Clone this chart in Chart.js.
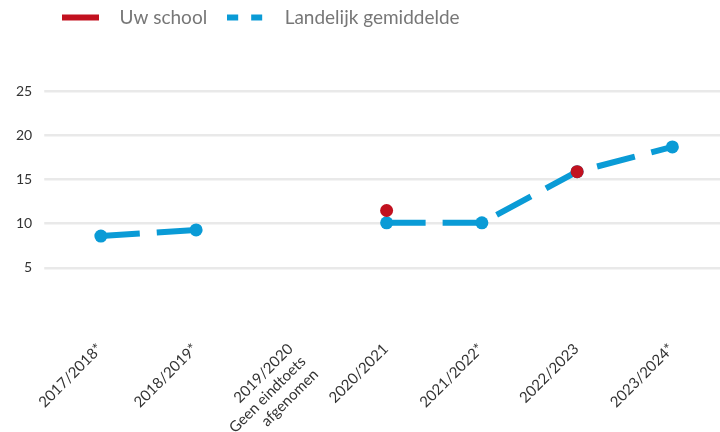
<!DOCTYPE html>
<html>
<head>
<meta charset="utf-8">
<script src="https://cdn.jsdelivr.net/npm/chart.js@4.4.1/dist/chart.umd.min.js"></script>
<style>
  html, body { margin: 0; padding: 0; background: #fff; }
  #wrap { width: 720px; height: 432px; position: relative; }
</style>
</head>
<body>
<div id="wrap"><canvas id="scoreChart"></canvas></div>
<script>
const schoolYears = [
    '2017/2018*',
    '2018/2019*',
    ['2019/2020', 'Geen eindtoets', 'afgenomen'],
    '2020/2021',
    '2021/2022*',
    '2022/2023',
    '2023/2024*'
];
const uwSchool = [null, null, null, 11.5, null, 15.9, null];
const landelijk = [8.6, 9.3, null, 10.1, 10.1, 15.9, 18.7];
const yTicks = [5, 10, 15, 20, 25];

document.addEventListener('DOMContentLoaded', () => {
    const red = '#c2111f';
    const blue = '#0a9bd6';
    const gridColor = '#e9e9e9';

    Chart.defaults.font.family = "'Lato', 'Open Sans', sans-serif";

    // legend swatch: a thick line (solid or dashed) with room after it
    const makeSwatch = (color, dash) => {
        const c = document.createElement('canvas');
        c.width = 48;
        c.height = 8;
        const g = c.getContext('2d');
        g.strokeStyle = color;
        g.lineWidth = 6;
        g.setLineDash(dash);
        g.beginPath();
        g.moveTo(0, 4);
        g.lineTo(37, 4);
        g.stroke();
        return c;
    };
    const swatches = [makeSwatch(red, []), makeSwatch(blue, [11, 13])];

    // nudge the legend to where the reference has it
    const legendShift = {
        id: 'legendShift',
        afterLayout(chart) {
            chart.legend.left += 42 - chart.options.layout.padding.left;
            chart.legend.top -= 12;
        }
    };

    new Chart(document.getElementById('scoreChart'), {
        type: 'line',
        data: {
            labels: schoolYears,
            datasets: [{
                label: 'Uw school',
                data: uwSchool,
                borderColor: red,
                backgroundColor: red,
                pointBackgroundColor: red,
                pointBorderWidth: 0,
                pointRadius: 6.5,
                borderWidth: 6,
                spanGaps: false,
                order: 1
            }, {
                label: 'Landelijk gemiddelde',
                data: landelijk,
                borderColor: blue,
                backgroundColor: blue,
                pointBackgroundColor: blue,
                pointBorderWidth: 0,
                pointRadius: 6.5,
                borderWidth: 6,
                borderDash: [39, 17],
                spanGaps: false,
                order: 2
            }]
        },
        options: {
            responsive: true,
            maintainAspectRatio: false,
            animation: false,
            layout: { autoPadding: false, padding: { left: 4, right: 0, top: 0, bottom: 0 } },
            scales: {
                x: {
                    offset: true,
                    afterFit: (scale) => {
                        scale.height = 120;
                        scale.paddingLeft = 0;
                        scale.paddingRight = 0;
                    },
                    grid: { display: false },
                    border: { display: false },
                    ticks: {
                        color: '#333',
                        font: { size: 15 },
                        minRotation: 45,
                        maxRotation: 45,
                        autoSkip: false,
                        labelOffset: -1,
                        padding: 20
                    }
                },
                y: {
                    min: 0,
                    max: 29.8,
                    afterBuildTicks: (axis) => {
                        axis.ticks = yTicks.map(v => ({ value: v }));
                    },
                    grid: { color: gridColor, lineWidth: 2.5, tickLength: 9, tickColor: gridColor, tickWidth: 2.5 },
                    border: { display: false },
                    ticks: { color: '#333', font: { size: 14 }, padding: 12 }
                }
            },
            plugins: {
                tooltip: { enabled: false },
                legend: {
                    align: 'start',
                    labels: {
                        color: '#777',
                        font: { size: 19 },
                        usePointStyle: true,
                        pointStyleWidth: 48,
                        boxHeight: 8,
                        padding: 20,
                        generateLabels: (chart) => {
                            const items = Chart.defaults.plugins.legend.labels.generateLabels(chart);
                            items.forEach((it, i) => {
                                it.pointStyle = swatches[i];
                                it.lineWidth = 0;
                            });
                            return items;
                        }
                    }
                }
            }
        },
        plugins: [legendShift]
    });
});
</script>
</body>
</html>
